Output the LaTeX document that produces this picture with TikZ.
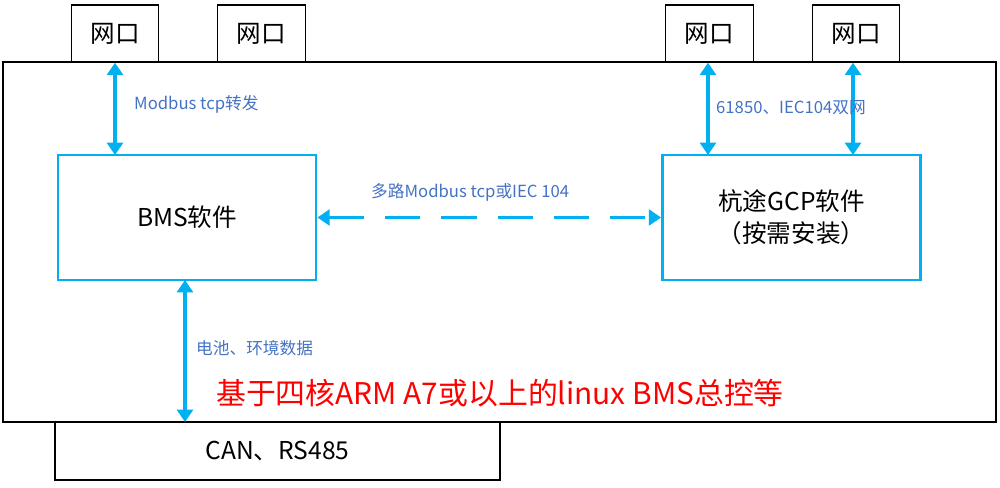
\documentclass[tikz,border=0pt]{standalone}
\usepackage{fontspec}
\setmainfont{Noto Sans CJK SC}
\usetikzlibrary{arrows.meta}
\definecolor{linecyan}{RGB}{0,176,240}
\definecolor{labelblue}{RGB}{68,114,196}
\tikzset{
  portbox/.style={draw,line width=0.8pt,minimum width=1.75cm,minimum height=1.14cm,font=\fontsize{14}{16}\selectfont},
  softbox/.style={draw=linecyan,line width=1.6pt,minimum width=5.16cm,minimum height=2.5cm,align=center,font=\fontsize{14}{18}\selectfont},
  link/.style={linecyan,line width=2.2pt,{Triangle[length=7pt,width=9pt]}-{Triangle[length=7pt,width=9pt]}},
  linklabel/.style={text=labelblue,font=\fontsize{9.5}{11}\selectfont,anchor=west},
}
\begin{document}
\begin{tikzpicture}[x=0.02cm,y=-0.02cm]
\useasboundingbox (0,0) rectangle (1000,487);
%% frame
\node (board) [draw,line width=0.8pt,minimum width=19.86cm,minimum height=7.2cm,inner sep=0pt] at (499.5,242) {};
\node (port_a) [portbox] at (115,33.5) {网口};
\node (port_b) [portbox] at (261.5,33.5) {网口};
\node (port_c) [portbox] at (709.5,33.5) {网口};
\node (port_d) [portbox] at (856,33.5) {网口};
\node (bus) [draw,line width=0.8pt,minimum width=8.9cm,minimum height=1.16cm,font=\fontsize{14}{16}\selectfont] at (277.5,451) {CAN、RS485};
%% software
\node (bms) [softbox] at (187,217.5) {BMS软件};
\node (gcp) [softbox] at (791.5,217.5) {杭途GCP软件\\（按需安装）};
%% links
\coordinate (bms_top) at (115,155);
\coordinate (gcp_top_a) at (708,155);
\coordinate (gcp_top_b) at (853,155);
\coordinate (bms_bot) at (185,280);
\coordinate (bus_top) at (185,422);
\draw [link] (port_a.south) -- (bms_top);
\draw [link] (port_c.south -| gcp_top_a) -- (gcp_top_a);
\draw [link] (port_d.south -| gcp_top_b) -- (gcp_top_b);
\draw [link,dash pattern=on 20pt off 12pt] (bms.east) -- (gcp.west);
\draw [link] (bms_bot) -- (bus_top);
%% labels
\node (lbl_fwd) [linklabel] at (128,104) {Modbus tcp转发};
\node (lbl_dual) [linklabel] at (710,108) {61850、IEC104双网};
\node (lbl_multi) [linklabel] at (365,192) {多路Modbus tcp或IEC 104};
\node (lbl_data) [linklabel] at (190,348) {电池、环境数据};
\node (lbl_main) [text=red,font=\fontsize{17}{19}\selectfont] at (500,393) {基于四核ARM A7或以上的linux BMS总控等};
\end{tikzpicture}
\end{document}
